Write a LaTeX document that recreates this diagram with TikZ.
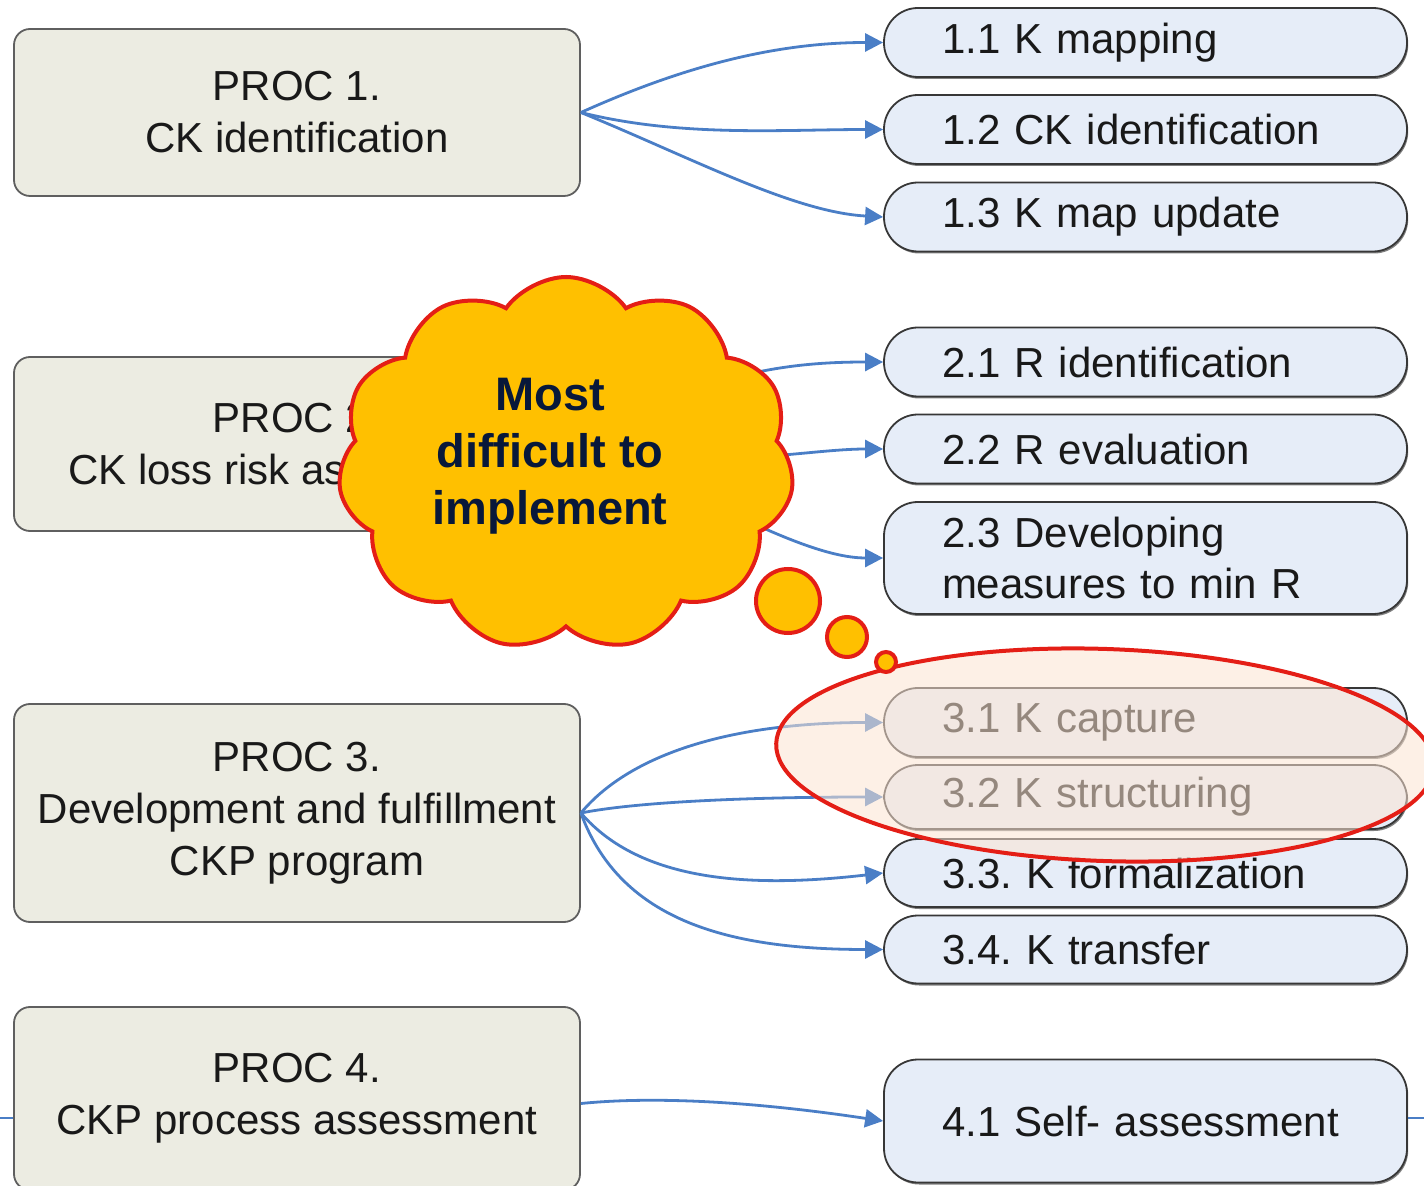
\documentclass[tikz,border=0pt]{standalone}
\usepackage{fontspec}
\setmainfont{Liberation Sans}
\usetikzlibrary{arrows.meta,shapes.symbols,shapes.geometric,shadows}
\definecolor{procfill}{RGB}{236,236,226}
\definecolor{procline}{RGB}{95,95,95}
\definecolor{pillfill}{RGB}{230,237,248}
\definecolor{pillline}{RGB}{55,55,55}
\definecolor{arrowblue}{RGB}{74,126,198}
\definecolor{cloudfill}{RGB}{255,192,0}
\definecolor{cloudred}{RGB}{228,30,22}
\definecolor{navytext}{RGB}{8,24,58}
\definecolor{ellfill}{RGB}{252,228,210}
\definecolor{txt}{RGB}{25,25,25}
\frenchspacing
\begin{document}
\begin{tikzpicture}[x=0.5pt,y=-0.5pt,
 procbox/.style={draw=procline, line width=0.9pt, fill=procfill, rounded corners=8pt,
   minimum width=283pt, align=center, text=txt, font=\fontsize{21}{26}\selectfont, inner sep=0pt},
 pill/.style={draw=pillline, line width=0.9pt, fill=pillfill, rounded corners=17pt,
   minimum width=261.5pt, text width=203.5pt, inner xsep=29pt, inner ysep=0pt, align=left,
   text=txt, font=\fontsize{21}{25.5}\selectfont,
   drop shadow={shadow xshift=0.6pt, shadow yshift=-1pt, opacity=0.5, fill=black}},
 edge/.style={draw=arrowblue, line width=1.4pt, -{Triangle[length=9pt,width=9pt]}},
 bubble/.style={circle, draw=cloudred, line width=2pt, fill=cloudfill, inner sep=0pt},
]
\useasboundingbox (0,0) rectangle (1424,1186);

% left process boxes
\node[procbox, minimum height=83.5pt] (p1) at (297,112.5) {PROC 1.\\CK identification};
\node[procbox, minimum height=87pt] (p2) at (297,444) {PROC 2.\\CK loss risk assessment};
\node[procbox, minimum height=109pt] (p3) at (297,813) {PROC 3.\\Development and fulfillment\\CKP program};
\node[procbox, minimum height=91.5pt] (p4) at (297,1098.5) {PROC 4.\\CKP process assessment};

% right sub-process pills
\node[pill, minimum height=34.5pt] (k11) at (1145.5,42.5) {1.1 K mapping};
\node[pill, minimum height=34.5pt] (k12) at (1145.5,129.5) {1.2 CK identification};
\node[pill, minimum height=34.5pt] (k13) at (1145.5,217) {1.3 K map update};
\node[pill, minimum height=34.5pt] (k21) at (1145.5,362) {2.1 R identification};
\node[pill, minimum height=34.5pt] (k22) at (1145.5,449) {2.2 R evaluation};
\node[pill, minimum height=56pt] (k23) at (1145.5,558) {2.3 Developing\\measures to min R};
\node[pill, minimum height=34.5pt] (k31) at (1145.5,722.5) {3.1 K capture};
\node[pill, minimum height=32pt] (k32) at (1145.5,797) {3.2 K structuring};
\node[pill, minimum height=34pt] (k33) at (1145.5,873) {3.3. K formalization};
\node[pill, minimum height=34pt] (k34) at (1145.5,949.5) {3.4. K transfer};
\node[pill, minimum height=61.5pt] (k41) at (1145.5,1121) {4.1 Self- assessment};

% connectors
\draw[edge] (p1.east) .. controls +(100,-45) and +(-110,0) .. (k11.west);
\draw[edge] (p1.east) .. controls +(100,25) and +(-100,0) .. (k12.west);
\draw[edge] (p1.east) .. controls +(110,45) and +(-90,-5) .. (k13.west);
\draw[edge] (p2.east) .. controls +(120,-70) and +(-100,0) .. (k21.west);
\draw[edge] (p2.east) .. controls +(120,30) and +(-80,0) .. (k22.west);
\draw[edge] (p2.east) .. controls +(120,50) and +(-80,0) .. (k23.west);
\draw[edge] (p3.east) .. controls +(50,-60) and +(-150,0) .. (k31.west);
\draw[edge] (p3.east) .. controls +(60,-12) and +(-120,0) .. (k32.west);
\draw[edge] (p3.east) .. controls +(60,70) and +(-130,15) .. (k33.west);
\draw[edge] (p3.east) .. controls +(40,110) and +(-150,0) .. (k34.west);
\draw[edge] ([yshift=-2.5pt]p4.east) .. controls +(100,-10) and +(-80,-12) .. (k41.west);
\draw[draw=arrowblue, line width=1.4pt] ([yshift=-9.75pt]p4.west) -- ++(-20,0);
\draw[draw=arrowblue, line width=1.4pt] ([yshift=1.5pt]k41.east) -- ++(20,0);

% highlight ellipse
\node[ellipse, draw=cloudred, line width=2pt, fill=ellfill, fill opacity=0.55,
  minimum width=329pt, minimum height=106pt, rotate=-2, inner sep=0pt] (ell) at (1105,755) {};

% thought cloud
\node[cloud, cloud puffs=11, cloud puff arc=110, cloud ignores aspect,
  minimum width=228pt, minimum height=187pt, draw=cloudred, line width=2pt,
  fill=cloudfill, inner sep=0pt] (cl) at (566,464) {};
\node[font=\bfseries\fontsize{23.5}{28.5}\selectfont, text=navytext, align=center] (cltext) at (550,456) {Most\\difficult to\\implement};
\node[bubble, minimum size=32pt] (b1) at (788,601) {};
\node[bubble, minimum size=20pt] (b2) at (847,637) {};
\node[bubble, minimum size=10pt] (b3) at (886,662) {};
\end{tikzpicture}
\end{document}
